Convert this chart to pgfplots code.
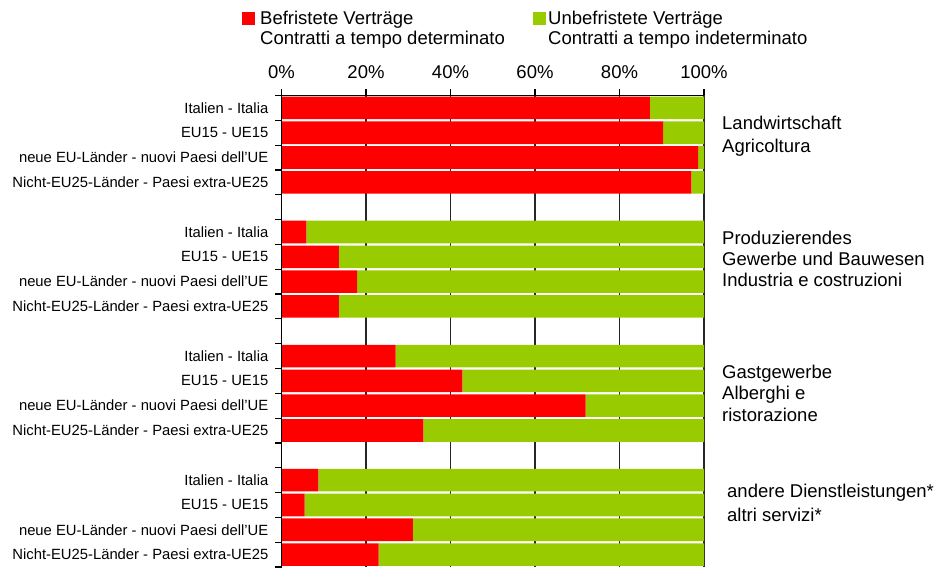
\documentclass[border=0pt]{standalone}
\usepackage{fontspec}
\setmainfont{Liberation Sans}
\usepackage{pgfplots}
\pgfplotsset{compat=1.18}
\definecolor{befr}{RGB}{255,0,0}
\definecolor{unbefr}{RGB}{153,204,0}
\pgfplotsset{
  layers/mylayers/.define layer set={axis background,axis grid,pre main,main,axis ticks,axis lines,axis tick labels,axis descriptions,axis foreground}{
    grid style={/pgfplots/on layer=axis grid},
    tick style={/pgfplots/on layer=axis ticks},
    axis line style={/pgfplots/on layer=axis lines},
    label style={/pgfplots/on layer=axis descriptions},
    legend style={/pgfplots/on layer=axis descriptions},
    title style={/pgfplots/on layer=axis descriptions},
    colorbar style={/pgfplots/on layer=axis descriptions},
    ticklabel style={/pgfplots/on layer=axis tick labels},
    axis background@ style={/pgfplots/on layer=axis background},
    3d box foreground style={/pgfplots/on layer=axis foreground},
  },
}
\newcommand{\bigf}{\fontsize{18.5bp}{22bp}\selectfont}
\begin{document}
\begin{tikzpicture}
\begin{axis}[
  set layers=mylayers,
  at={(0,0)}, anchor=south west,
  scale only axis, width=422.5bp, height=471.5bp,
  xbar stacked, bar width=0.91,
  xmin=0, xmax=100, ymin=0, ymax=19, y dir=reverse,
  axis x line*=top, axis y line*=left,
  axis line style={line width=1.3bp, black},
  tick align=outside,
  major tick length=6bp, 
  tick style={line width=1.2bp, black},
  xtick={0,20,40,60,80,100},
  xticklabels={0\%,20\%,40\%,60\%,80\%,100\%},
  xticklabel style={font=\bigf, inner sep=0pt, anchor=base, yshift=11bp},
  xmajorgrids, grid style={line width=1.2bp, black!85},
  ytick={0,...,19}, yticklabels={},
  ymajorgrids=false,
  extra y ticks={0.5,1.5,2.5,3.5,5.5,6.5,7.5,8.5,10.5,11.5,12.5,13.5,15.5,16.5,17.5,18.5},
  extra y tick labels={Italien - Italia, EU15 - UE15, neue EU-Länder - nuovi Paesi dell'UE, Nicht-EU25-Länder - Paesi extra-UE25,
    Italien - Italia, EU15 - UE15, neue EU-Länder - nuovi Paesi dell'UE, Nicht-EU25-Länder - Paesi extra-UE25,
    Italien - Italia, EU15 - UE15, neue EU-Länder - nuovi Paesi dell'UE, Nicht-EU25-Länder - Paesi extra-UE25,
    Italien - Italia, EU15 - UE15, neue EU-Länder - nuovi Paesi dell'UE, Nicht-EU25-Länder - Paesi extra-UE25},
  extra y tick style={major tick length=0pt, ymajorgrids=false,
    yticklabel style={font=\fontsize{14.8bp}{16bp}\selectfont, inner sep=0pt, anchor=east, xshift=-13bp}},
  clip=false,
]
\addplot[fill=befr, draw=none] coordinates {
 (87.2,0.5) (90.3,1.5) (98.6,2.5) (97.0,3.5)
 (5.9,5.5) (13.6,6.5) (17.9,7.5) (13.6,8.5)
 (27.0,10.5) (42.8,11.5) (72.0,12.5) (33.6,13.5)
 (8.7,15.5) (5.5,16.5) (31.1,17.5) (23.0,18.5)};
\addplot[fill=unbefr, draw=none] coordinates {
 (12.8,0.5) (9.7,1.5) (1.4,2.5) (3.0,3.5)
 (94.1,5.5) (86.4,6.5) (82.1,7.5) (86.4,8.5)
 (73.0,10.5) (57.2,11.5) (28.0,12.5) (66.4,13.5)
 (91.3,15.5) (94.5,16.5) (68.9,17.5) (77.0,18.5)};
\end{axis}
% legend
\fill[befr] (-39bp,542bp) rectangle (-26bp,555bp);
\node[anchor=base west, inner sep=0pt, font=\bigf] at (-21.5bp,542bp) {Befristete Verträge};
\node[anchor=base west, inner sep=0pt, font=\bigf] at (-21.5bp,522bp) {Contratti a tempo determinato};
\fill[unbefr] (251bp,542bp) rectangle (264bp,555bp);
\node[anchor=base west, inner sep=0pt, font=\bigf] at (266.5bp,542bp) {Unbefristete Verträge};
\node[anchor=base west, inner sep=0pt, font=\bigf] at (266.5bp,522bp) {Contratti a tempo indeterminato};
% group labels
\node[anchor=base west, inner sep=0pt, font=\bigf] at (440.5bp,437bp) {Landwirtschaft};
\node[anchor=base west, inner sep=0pt, font=\bigf] at (440.5bp,414bp) {Agricoltura};
\node[anchor=base west, inner sep=0pt, font=\bigf] at (440.5bp,322bp) {Produzierendes};
\node[anchor=base west, inner sep=0pt, font=\bigf] at (440.5bp,301bp) {Gewerbe und Bauwesen};
\node[anchor=base west, inner sep=0pt, font=\bigf] at (440.5bp,280bp) {Industria e costruzioni};
\node[anchor=base west, inner sep=0pt, font=\bigf] at (440.5bp,188bp) {Gastgewerbe};
\node[anchor=base west, inner sep=0pt, font=\bigf] at (440.5bp,167bp) {Alberghi e};
\node[anchor=base west, inner sep=0pt, font=\bigf] at (440.5bp,145bp) {ristorazione};
\node[anchor=base west, inner sep=0pt, font=\bigf] at (445.5bp,69bp) {andere Dienstleistungen*};
\node[anchor=base west, inner sep=0pt, font=\bigf] at (445.5bp,45bp) {altri servizi*};
\pgfresetboundingbox
\path[use as bounding box] (-281.5bp,-1bp) rectangle (659.5bp,567bp);
\end{tikzpicture}
\end{document}
